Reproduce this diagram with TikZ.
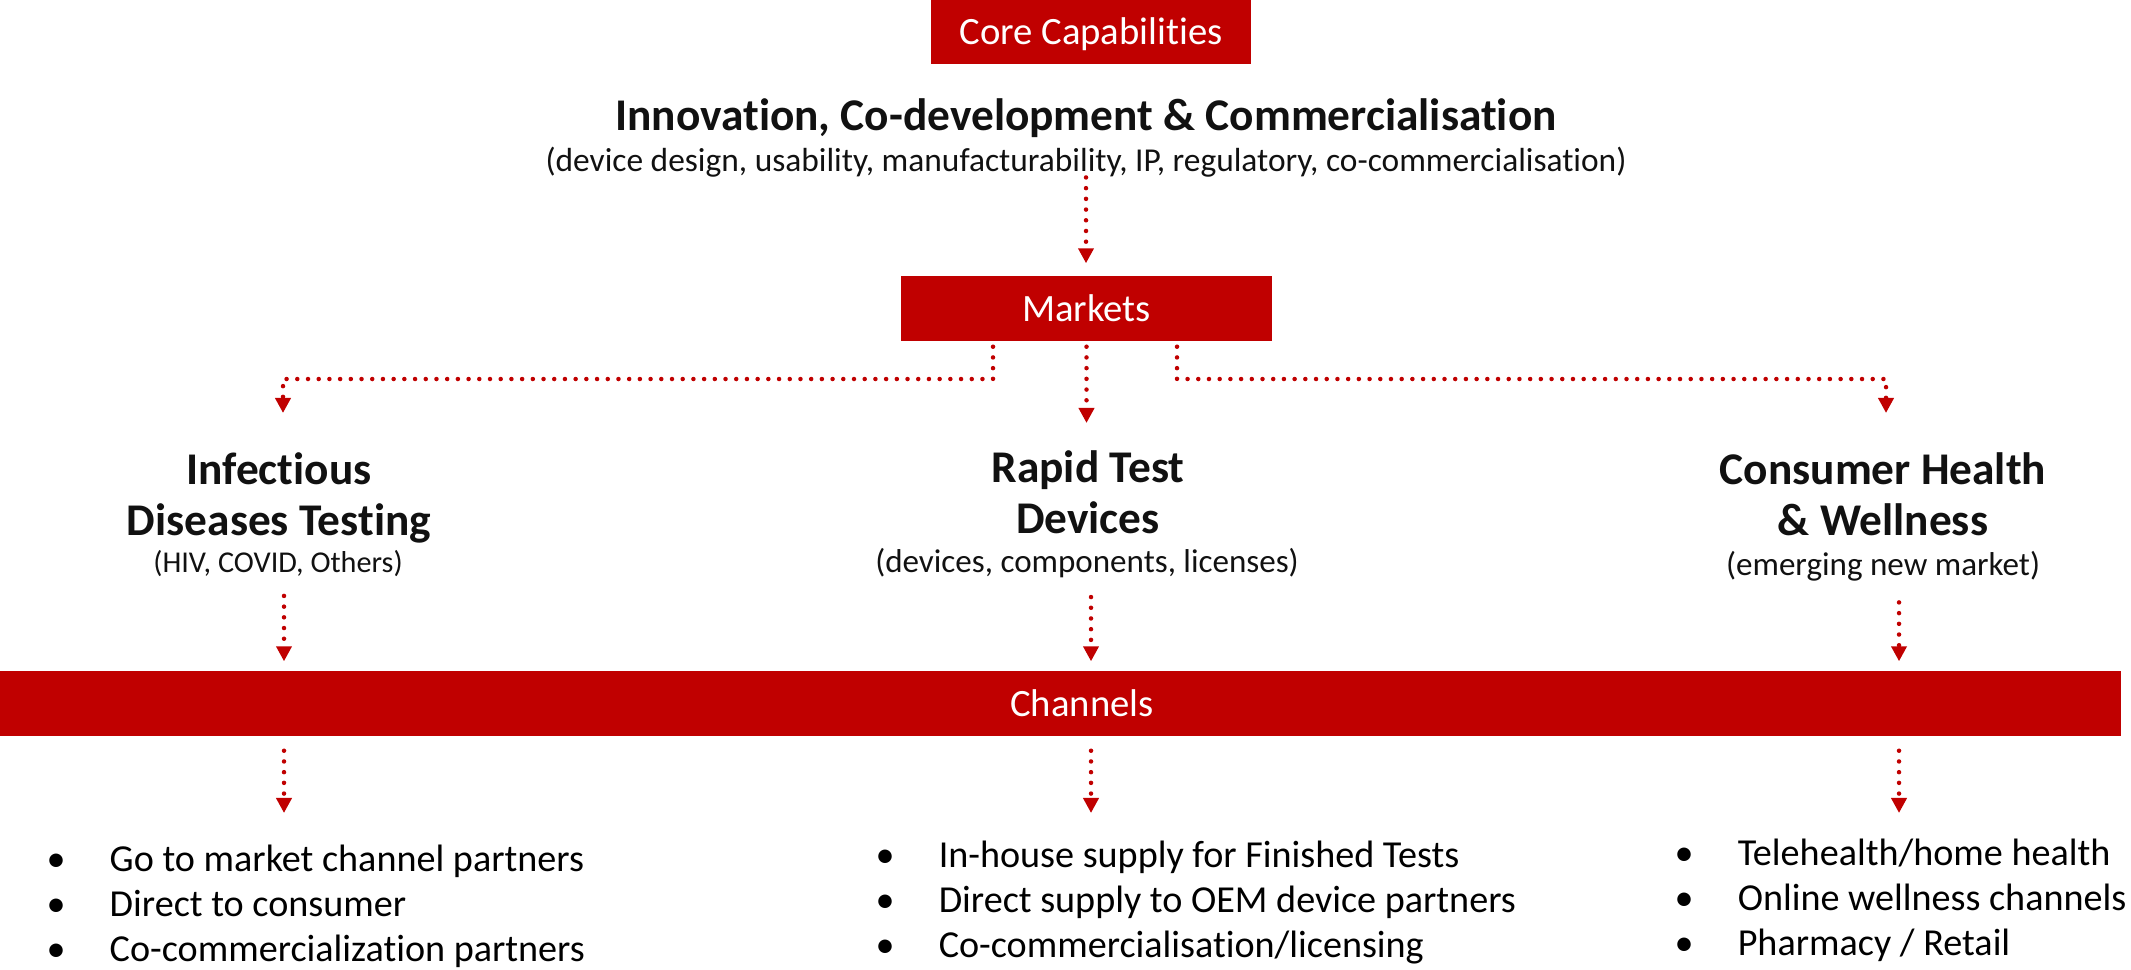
\documentclass[tikz,border=0pt]{standalone}
\usepackage{fontspec}
\setmainfont{Carlito}[Ligatures=CommonOff]
\usepackage{xcolor}
\usetikzlibrary{positioning, arrows.meta}

\definecolor{corered}{HTML}{C00000}
\definecolor{inkblack}{HTML}{111111}
\newcommand{\itembul}{\makebox[0.63cm][l]{\textbullet}}

\begin{document}
\begin{tikzpicture}[x=0.01cm, y=-0.01cm, >=latex]

        % Define block styles
        \tikzstyle{redbox} = [rectangle, fill=corered, text=white, inner sep=0pt, text height=0.25cm, text depth=0pt, font=\fontsize{11}{12}\selectfont]
        \tikzstyle{heading} = [align=center, inner sep=0pt, text=inkblack, font=\fontsize{12.9}{14.6}\selectfont\bfseries]
        \tikzstyle{subline} = [inner sep=0pt, text=inkblack, font=\fontsize{9.4}{11}\selectfont]
        \tikzstyle{itemlist} = [align=left, inner sep=0pt, text=black, font=\fontsize{10.85}{12.8}\selectfont]
        \tikzstyle{dotarrow} = [draw=corered, line width=0.045cm, line cap=round, dash pattern=on 0pt off 0.107cm, -{Triangle[width=0.15cm,length=0.15cm]}]

        \useasboundingbox (0,0) rectangle (2131,969);

        % Components
        \node (core) [redbox, minimum width=3.2cm, minimum height=0.64cm] at (1091,32) {Core Capabilities};
        \node (innov) [heading, anchor=base] at (1086,130) {Innovation, Co-development \& Commercialisation};
        \node (innovsub) [subline, anchor=base, font=\fontsize{9.5}{11}\selectfont] at (1086,171) {(device design, usability, manufacturability, IP, regulatory, co-commercialisation)};
        \node (markets) [redbox, minimum width=3.71cm, minimum height=0.65cm] at (1086.5,308.5) {Markets};

        \node (infect) [heading, anchor=north] at (279,452) {Infectious\\Diseases Testing};
        \node (rapid) [heading, anchor=north] at (1088,450) {Rapid Test\\Devices};
        \node (consumer) [heading, anchor=north] at (1883,452) {Consumer Health\\\& Wellness};
        \node (infectsub) [subline, anchor=base, font=\fontsize{8.6}{10}\selectfont] at (278,572) {(HIV, COVID, Others)};
        \node (rapidsub) [subline, anchor=base] at (1087,572) {(devices, components, licenses)};
        \node (consumersub) [subline, anchor=base] at (1883,575) {(emerging new market)};

        \node (channels) [redbox, minimum width=21.2cm, minimum height=0.65cm] at (1060,703.5) {\hspace*{0.44cm}Channels};

        \node (infectlist) [itemlist, anchor=north west] at (46,844) {\itembul Go to market channel partners\\ \itembul Direct to consumer\\ \itembul Co-commercialization partners};
        \node (rapidlist) [itemlist, anchor=north west] at (875,840) {\itembul In-house supply for Finished Tests\\ \itembul Direct supply to OEM device partners\\ \itembul Co-commercialisation/licensing};
        \node (consumerlist) [itemlist, anchor=north west] at (1674,838) {\itembul Telehealth/home health\\ \itembul Online wellness channels\\ \itembul Pharmacy / Retail};

        \coordinate (mleft) at (993,379);
        \coordinate (mright) at (1177,379);
        \coordinate (colL) at (284,0);
        \coordinate (colM) at (1091,0);
        \coordinate (colR) at (1899,0);

        % Arrows
        \draw [dotarrow, shorten >=0.12cm] (innovsub.south) -- (innovsub.south |- markets.north);
        \draw [dotarrow, shorten <=0.05cm, shorten >=0.39cm] (markets.south -| mleft) -- (mleft) -| ([xshift=0.04cm]infect.north);
        \draw [dotarrow, shorten <=0.05cm, shorten >=0.27cm] (markets.south) -- (markets.south |- rapid.north);
        \draw [dotarrow, shorten <=0.05cm, shorten >=0.39cm] (markets.south -| mright) -- (mright) -| ([xshift=0.03cm]consumer.north);

        \draw [dotarrow, shorten <=0.19cm, shorten >=0.09cm] (infectsub.south -| colL) -- (channels.north -| colL);
        \draw [dotarrow, shorten <=0.19cm, shorten >=0.09cm] (rapidsub.south -| colM) -- (channels.north -| colM);
        \draw [dotarrow, shorten <=0.21cm, shorten >=0.09cm] (consumersub.south -| colR) -- (channels.north -| colR);

        \draw [dotarrow, shorten <=0.14cm, shorten >=0.31cm] (channels.south -| colL) -- (infectlist.north -| colL);
        \draw [dotarrow, shorten <=0.14cm, shorten >=0.27cm] (channels.south -| colM) -- (rapidlist.north -| colM);
        \draw [dotarrow, shorten <=0.14cm, shorten >=0.25cm] (channels.south -| colR) -- (consumerlist.north -| colR);

\end{tikzpicture}
\end{document}
